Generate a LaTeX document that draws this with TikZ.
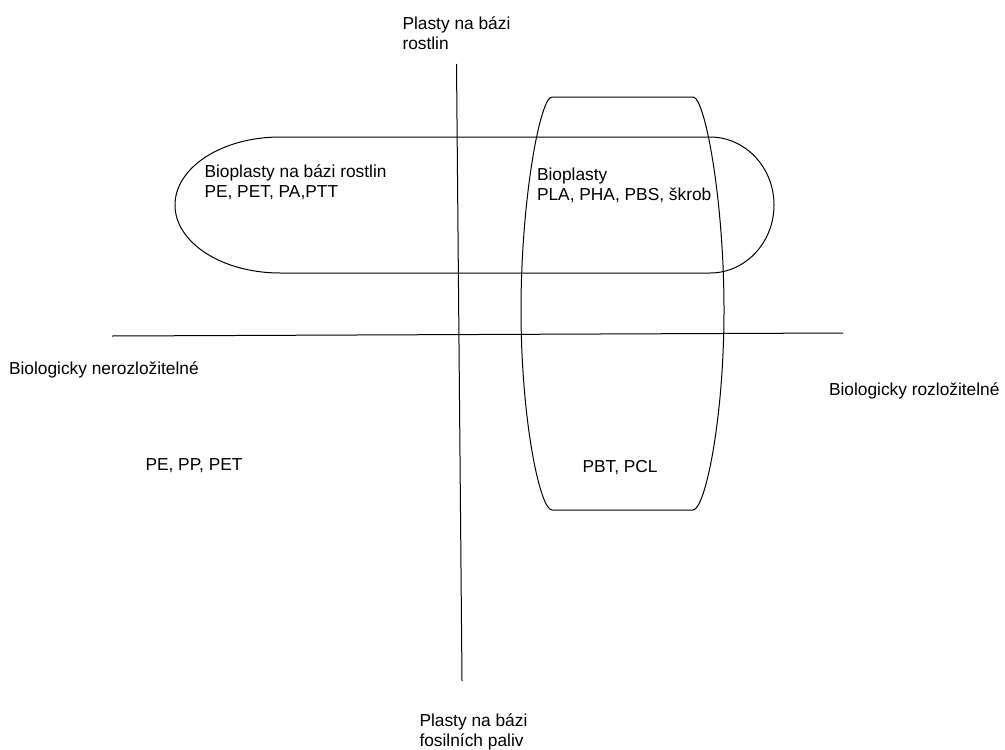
\documentclass[tikz,border=0pt]{standalone}
\usepackage{fontspec}
\setmainfont{Liberation Sans}

\tikzset{every picture/.style={line width=0.75pt}}
\tikzset{lbl/.style={anchor=base west, inner sep=0pt, align=left, font=\fontsize{13}{15}\selectfont}}

\begin{document}
\begin{tikzpicture}[x=0.75pt,y=0.75pt,yscale=-1,xscale=1]
\useasboundingbox (0,0) rectangle (1005,749);

%Axis end points
\coordinate (plantTop) at (456.5,64);
\coordinate (fossilBot) at (462,681);
\coordinate (nondegL) at (112,336);
\coordinate (degR) at (843,333);

%Straight Lines [id:vertAxis]
\draw    (plantTop) -- (fossilBot) ;
%Straight Lines [id:horizAxis]
\draw    (nondegL) -- (degR) ;

%Shape: Stadium [id:bioBased]
\draw   (280,137) -- (710,137) arc (-90:90:64 and 68) -- (280,273) arc (90:270:105 and 68) -- cycle ;
%Shape: Barrel [id:bioDegr]
\draw   (552,97) -- (693,97) .. controls (705,97) and (724,200) .. (724,310) .. controls (724,420) and (705,510) .. (693,510) -- (552,510) .. controls (540,510) and (521,420) .. (521,310) .. controls (521,200) and (540,97) .. (552,97) -- cycle ;

% Text Node
\draw (402,50) node [lbl] (plantLbl) {Plasty na bázi\\rostlin};
% Text Node
\draw (419,746) node [lbl] (fossilLbl) {Plasty na bázi\\fosilních paliv};
% Text Node
\draw (8.5,374.3) node [lbl] (nondegLbl) {Biologicky nerozložitelné};
% Text Node
\draw (828.5,395) node [lbl] (degLbl) {Biologicky rozložitelné};
% Text Node
\draw (204,197.3) node [lbl] (bioBasedLbl) {Bioplasty na bázi rostlin\\PE, PET, PA,PTT};
% Text Node
\draw (536.5,200) node [lbl] (bioLbl) {Bioplasty\\PLA, PHA, PBS, škrob};
% Text Node
\draw (145,470) node [lbl] (fossilNondegLbl) {PE, PP, PET};
% Text Node
\draw (582,472.3) node [lbl] (fossilDegLbl) {PBT, PCL};

\end{tikzpicture}
\end{document}
